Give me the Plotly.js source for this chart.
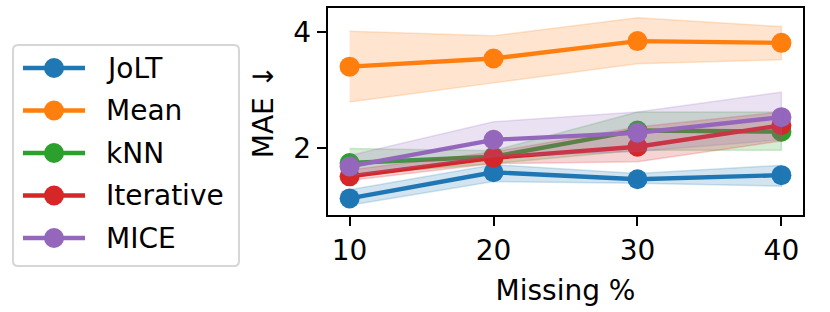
<!DOCTYPE html>
<html>
<head>
<meta charset="utf-8">
<script src="https://cdn.plot.ly/plotly-3.0.1.min.js"></script>
<style>html,body{margin:0;padding:0;background:#fff;}#chart{width:830px;height:312px;}</style>
</head>
<body>
<div id="chart"></div>
<script>
// ---- data ----
const missing = [10, 20, 30, 40];
const methods = ['JoLT', 'Mean', 'kNN', 'Iterative', 'MICE'];
const colors = ['#1f77b4', '#ff7f0e', '#2ca02c', '#d62728', '#9467bd'];
const fillColors = ['rgba(31,119,180,0.2)', 'rgba(255,127,14,0.2)', 'rgba(44,160,44,0.2)', 'rgba(214,39,40,0.2)', 'rgba(148,103,189,0.2)'];

const joltMAE = [1.13, 1.58, 1.46, 1.53];
const joltLo  = [1.01, 1.42, 1.39, 1.34];
const joltHi  = [1.28, 1.71, 1.56, 1.70];

const meanMAE = [3.40, 3.54, 3.84, 3.81];
const meanLo  = [2.79, 3.12, 3.45, 3.52];
const meanHi  = [4.01, 3.93, 4.24, 4.09];

const knnMAE = [1.74, 1.85, 2.30, 2.28];
const knnLo  = [1.53, 1.73, 1.96, 1.96];
const knnHi  = [1.99, 1.95, 2.62, 2.62];

const iterMAE = [1.51, 1.83, 2.02, 2.39];
const iterLo  = [1.44, 1.73, 1.76, 2.12];
const iterHi  = [1.62, 1.93, 2.36, 2.62];

const miceMAE = [1.68, 2.14, 2.26, 2.53];
const miceLo  = [1.52, 1.85, 1.94, 2.14];
const miceHi  = [1.87, 2.45, 2.62, 2.96];

const xTicks = [10, 20, 30, 40];
const yTicks = [2, 4];

const series = [
  [joltMAE, joltLo, joltHi],
  [meanMAE, meanLo, meanHi],
  [knnMAE, knnLo, knnHi],
  [iterMAE, iterLo, iterHi],
  [miceMAE, miceLo, miceHi]
];

// ---- traces ----
const traces = [];
series.forEach((s, i) => {
  traces.push({
    x: missing, y: s[0], type: 'scatter', mode: 'lines+markers', name: methods[i],
    line: {color: colors[i], width: 4.3},
    marker: {color: colors[i], size: 20},
    showlegend: false
  });
  traces.push({
    x: missing.concat(missing.slice().reverse()),
    y: s[2].concat(s[1].slice().reverse()),
    type: 'scatter', mode: 'lines', fill: 'toself',
    fillcolor: fillColors[i],
    line: {color: fillColors[i], width: 1.5},
    hoverinfo: 'skip', showlegend: false
  });
});

// ---- layout helpers (pixel -> paper) ----
const L = 328, R = 803, T = 8, B = 215;
const W = R - L, H = B - T;
const px = v => (v - L) / W;
const py = v => (B - v) / H;

const shapes = [];
const annotations = [];
const FS = 28;

// legend frame (rounded)
const lx0 = 13, lx1 = 239, ly0 = 45, ly1 = 266, rr = 5;
const path = [
  'M', px(lx0 + rr), py(ly0),
  'L', px(lx1 - rr), py(ly0),
  'Q', px(lx1), py(ly0), px(lx1), py(ly0 + rr),
  'L', px(lx1), py(ly1 - rr),
  'Q', px(lx1), py(ly1), px(lx1 - rr), py(ly1),
  'L', px(lx0 + rr), py(ly1),
  'Q', px(lx0), py(ly1), px(lx0), py(ly1 - rr),
  'L', px(lx0), py(ly0 + rr),
  'Q', px(lx0), py(ly0), px(lx0 + rr), py(ly0), 'Z'
].join(' ');
shapes.push({type: 'path', xref: 'paper', yref: 'paper', path: path,
  fillcolor: 'rgba(255,255,255,0.8)', line: {color: '#d6d6d6', width: 2}, layer: 'above'});

methods.forEach((m, i) => {
  const cy = 68 + i * 42.5;
  shapes.push({type: 'line', xref: 'paper', yref: 'paper',
    x0: px(23), x1: px(85), y0: py(cy), y1: py(cy),
    line: {color: colors[i], width: 4.3}, layer: 'above'});
  shapes.push({type: 'circle', xref: 'paper', yref: 'paper',
    x0: px(54 - 10), x1: px(54 + 10), y0: py(cy - 10), y1: py(cy + 10),
    fillcolor: colors[i], line: {color: colors[i], width: 0}, layer: 'above'});
  annotations.push({xref: 'paper', yref: 'paper', x: px(104), y: py(cy),
    xanchor: 'left', yanchor: 'middle', showarrow: false, text: m,
    font: {family: 'DejaVu Sans', size: FS, color: '#000'}});
});

const layout = {
  width: 830, height: 312,
  margin: {l: L, r: 830 - R, t: T, b: 312 - B},
  paper_bgcolor: '#fff', plot_bgcolor: '#fff',
  font: {family: 'DejaVu Sans', size: FS, color: '#000'},
  showlegend: false,
  xaxis: {
    range: [8.5, 41.5], tickvals: xTicks, ticktext: xTicks.map(String),
    showline: true, mirror: true, linecolor: '#000', linewidth: 2.2,
    ticks: 'outside', ticklen: 9, tickwidth: 2, tickcolor: '#000',
    showgrid: false, zeroline: false,
    tickfont: {family: 'DejaVu Sans', size: FS, color: '#000'},
    title: {text: 'Missing %', font: {family: 'DejaVu Sans', size: FS, color: '#000'}, standoff: 15}
  },
  yaxis: {
    range: [0.844, 4.41], tickvals: yTicks, ticktext: yTicks.map(String),
    showline: true, mirror: true, linecolor: '#000', linewidth: 2.2,
    ticks: 'outside', ticklen: 9, tickwidth: 2, tickcolor: '#000',
    showgrid: false, zeroline: false,
    tickfont: {family: 'DejaVu Sans', size: FS, color: '#000'},
    title: {text: 'MAE ↓', font: {family: 'DejaVu Sans', size: FS, color: '#000'}, standoff: 12}
  },
  shapes: shapes,
  annotations: annotations
};

Plotly.newPlot('chart', traces, layout, {displayModeBar: false, staticPlot: true});
</script>
</body>
</html>
